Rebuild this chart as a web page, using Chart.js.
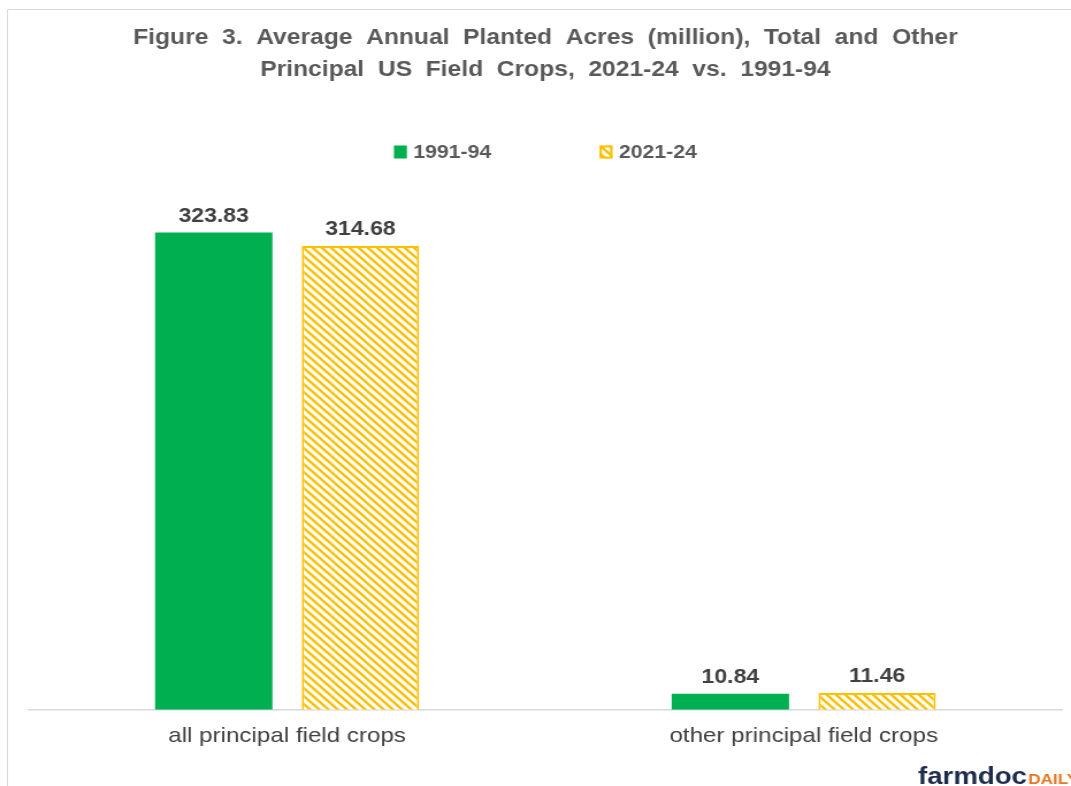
<!DOCTYPE html>
<html>
<head>
<meta charset="utf-8">
<script src="https://cdn.jsdelivr.net/npm/chart.js@4.4.1/dist/chart.umd.min.js"></script>
<style>
  html, body { margin: 0; padding: 0; background: #ffffff; overflow: hidden; }
  #wrap { width: 931px; height: 786px; transform: scaleX(1.1504); transform-origin: 0 0; }
  canvas { display: block; }
</style>
</head>
<body>
<div id="wrap"><canvas id="c" width="931" height="786"></canvas></div>
<script>
// ---- data ----
const categories = ['all principal field crops', 'other principal field crops'];
const seriesLabels = ['1991-94', '2021-24'];
const values1991 = [323.83, 10.84];
const values2021 = [314.68, 11.46];
const titleLines = ['Figure  3.  Average  Annual  Planted  Acres  (million),  Total  and  Other',
                    'Principal  US  Field  Crops,  2021-24  vs.  1991-94'];

const GREEN = '#00B050';
const GOLD = '#FFC000';
const FONT = '"Liberation Sans", Arial, sans-serif';

function makeHatch() {
  const p = document.createElement('canvas');
  p.width = 8; p.height = 8;
  const g = p.getContext('2d');
  g.fillStyle = '#ffffff';
  g.fillRect(0, 0, 8, 8);
  g.strokeStyle = GOLD;
  g.lineWidth = 2.4;
  g.beginPath();
  g.moveTo(-2, -2); g.lineTo(10, 10);
  g.moveTo(-2, 6); g.lineTo(2, 10);
  g.moveTo(6, -2); g.lineTo(10, 2);
  g.stroke();
  return g.createPattern(p, 'repeat');
}
const ctx = document.getElementById('c').getContext('2d');
const hatch = makeHatch();

const framePlugin = {
  id: 'frame',
  beforeDraw(chart) {
    const c = chart.ctx;
    c.save();
    c.strokeStyle = '#d9d9d9';
    c.lineWidth = 1;
    c.beginPath();
    c.moveTo(6.5, chart.height + 5);
    c.lineTo(6.5, 9.5);
    c.lineTo(chart.width + 5, 9.5);
    c.stroke();
    c.restore();
  }
};

const legendPlugin = {
  id: 'customLegend',
  afterDraw(chart) {
    const c = chart.ctx;
    const area = chart.chartArea;
    c.save();
    c.font = 'bold 18.5px ' + FONT;
    const boxW = 11.3, boxH = 13, boxGap = 5.5, itemGap = 94;
    const widths = chart.data.datasets.map(d => boxW + boxGap + c.measureText(d.label).width);
    const total = widths.reduce((a, b) => a + b, 0) + itemGap * (widths.length - 1);
    let x = (area.left + area.right) / 2 - total / 2;
    const cy = 152;
    chart.data.datasets.forEach((d, i) => {
      c.fillStyle = d.backgroundColor;
      c.fillRect(x, cy - boxH / 2, boxW, boxH);
      if (i > 0) {
        c.strokeStyle = d.borderColor;
        c.lineWidth = 2;
        c.strokeRect(x + 1, cy - boxH / 2 + 1, boxW - 2, boxH - 2);
      }
      c.fillStyle = '#595959';
      c.textAlign = 'left';
      c.textBaseline = 'middle';
      c.fillText(d.label, x + boxW + boxGap, cy + 1);
      x += widths[i] + itemGap;
    });
    c.restore();
  }
};

const labelPlugin = {
  id: 'valueLabels',
  afterDatasetsDraw(chart) {
    const c = chart.ctx;
    c.save();
    c.font = 'bold 20px ' + FONT;
    c.fillStyle = '#404040';
    c.textAlign = 'center';
    c.textBaseline = 'alphabetic';
    chart.data.datasets.forEach((d, di) => {
      chart.getDatasetMeta(di).data.forEach((el, i) => {
        c.fillText(d.data[i].toFixed(2), el.x, el.y - 11);
      });
    });
    c.restore();
  }
};

const logoPlugin = {
  id: 'logo',
  afterDraw(chart) {
    const c = chart.ctx;
    c.save();
    c.textBaseline = 'alphabetic';
    c.textAlign = 'left';
    c.font = 'bold 24px ' + FONT;
    c.fillStyle = '#1c2b4b';
    const x0 = 798;
    c.fillText('farmdoc', x0, 784);
    const w = c.measureText('farmdoc').width;
    c.font = 'bold 15px ' + FONT;
    c.fillStyle = '#e87722';
    c.fillText('DAILY', x0 + w + 1, 784);
    c.restore();
  }
};

new Chart(ctx, {
  type: 'bar',
  data: {
    labels: categories,
    datasets: [
      { label: seriesLabels[0], data: values1991, backgroundColor: GREEN, borderWidth: 0,
        categoryPercentage: 0.568, barPercentage: 0.80 },
      { label: seriesLabels[1], data: values2021, backgroundColor: hatch, borderColor: GOLD, borderWidth: 2,
        categoryPercentage: 0.568, barPercentage: 0.80 }
    ]
  },
  options: {
    responsive: false,
    animation: false,
    devicePixelRatio: 1,
    layout: { padding: { left: 25, right: 7.8, top: 0, bottom: 23 } },
    plugins: {
      legend: { display: false },
      tooltip: { enabled: false },
      title: {
        display: true,
        text: titleLines,
        color: '#595959',
        font: { family: FONT, size: 21.4, weight: 'bold', lineHeight: 1.5 },
        padding: { top: 22, bottom: 93 }
      }
    },
    scales: {
      x: {
        grid: { display: false, drawTicks: false },
        border: { display: true, color: '#d9d9d9', width: 1.5 },
        ticks: { color: '#404040', font: { family: FONT, size: 21 }, padding: 14 }
      },
      y: {
        display: false,
        min: 0,
        max: 360
      }
    }
  },
  plugins: [framePlugin, legendPlugin, labelPlugin, logoPlugin]
});
</script>
</body>
</html>
